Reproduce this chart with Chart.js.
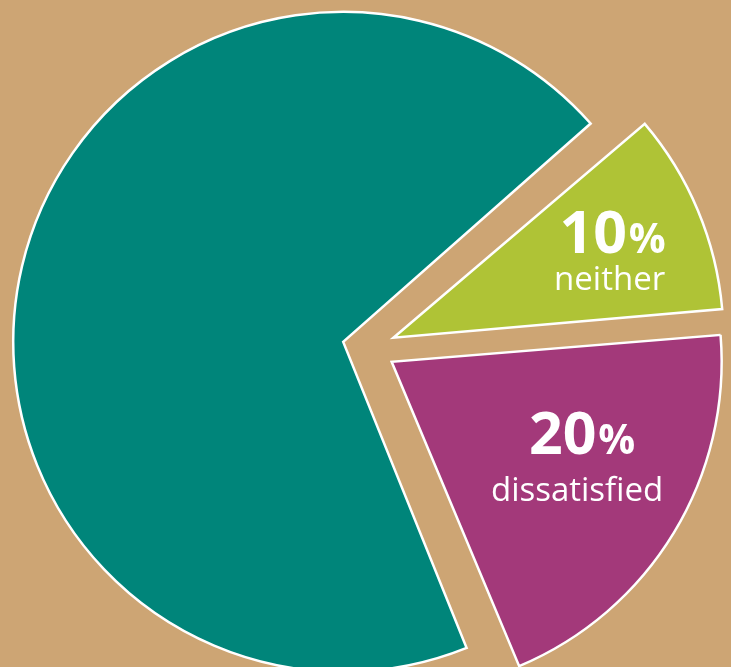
<!DOCTYPE html>
<html>
<head>
<meta charset="utf-8">
<script src="https://cdn.jsdelivr.net/npm/chart.js@4"></script>
<style>
  html, body { margin: 0; padding: 0; overflow: hidden; background: #cda574; }
  #pie { position: absolute; left: 0; top: 0; }
</style>
</head>
<body>
<canvas id="pie" width="738" height="696"></canvas>
<script>
// Survey answer shares, in drawing order (clockwise from the top-right)
const categories = ['neither', 'dissatisfied', 'satisfied'];
const percentages = [10, 20, 70];
const sliceColors = ['#afc336', '#a3397a', '#00857a'];
const showLabel = [true, true, false];

// Chart.js grows the radius of exploded arcs a bit; keep every slice the same size
const equalRadius = {
    id: 'equalRadius',
    beforeDatasetsDraw(chart) {
        const meta = chart.getDatasetMeta(0);
        const R = meta.controller.outerRadius;
        meta.data.forEach(arc => {
            const shift = (arc.options.offset || 0) / 4;
            const fix = 1 - Math.sin(Math.min(Math.PI, arc.circumference));
            arc.outerRadius = R - shift * fix;
        });
    }
};

// "10%" over "neither" style labels inside the slices
const sliceLabels = {
    id: 'sliceLabels',
    afterDatasetsDraw(chart, args, opts) {
        const ctx = chart.ctx;
        const meta = chart.getDatasetMeta(0);
        const R = meta.controller.outerRadius;
        meta.data.forEach((arc, i) => {
            if (!showLabel[i]) return;
            const spot = opts.spots[i];
            const mid = (arc.startAngle + arc.endAngle) / 2;
            const r = (arc.options.offset || 0) / 4 + R * spot.r;
            const x = arc.x + Math.cos(mid) * r + spot.dx;
            const y = arc.y + Math.sin(mid) * r + spot.dy;

            ctx.save();
            ctx.fillStyle = '#ffffff';
            ctx.textBaseline = 'alphabetic';
            ctx.textAlign = 'left';
            const num = String(percentages[i]);
            ctx.font = 'bold 59px "Open Sans"';
            const wNum = ctx.measureText(num).width;
            ctx.font = 'bold 41px "Open Sans"';
            const wPct = ctx.measureText('%').width;
            const left = x - (wNum + wPct + 2) / 2;
            ctx.font = 'bold 59px "Open Sans"';
            ctx.fillText(num, left, y);
            ctx.font = 'bold 41px "Open Sans"';
            ctx.fillText('%', left + wNum + 2, y);

            ctx.textAlign = 'center';
            ctx.font = '33px "Open Sans"';
            ctx.fillText(categories[i], x + spot.nameDx, y + spot.gap);
            ctx.restore();
        });
    }
};

new Chart(document.getElementById('pie'), {
    type: 'pie',
    data: {
        labels: categories,
        datasets: [{
            data: percentages,
            backgroundColor: sliceColors,
            borderColor: '#ffffff',
            borderWidth: 2.5,
            borderJoinStyle: 'miter',
            offset: 106,
            radius: 330
        }]
    },
    options: {
        responsive: false,
        animation: false,
        events: [],
        rotation: 49.3,
        layout: { padding: 0 },
        plugins: {
            legend: { display: false },
            tooltip: { enabled: false },
            sliceLabels: {
                spots: [
                    { r: 0.71, dx: 3, dy: 6, gap: 37, nameDx: -3 },
                    { r: 0.64, dx: 10, dy: -17, gap: 47, nameDx: -5 }
                ]
            }
        }
    },
    plugins: [equalRadius, sliceLabels]
});
</script>
</body>
</html>
